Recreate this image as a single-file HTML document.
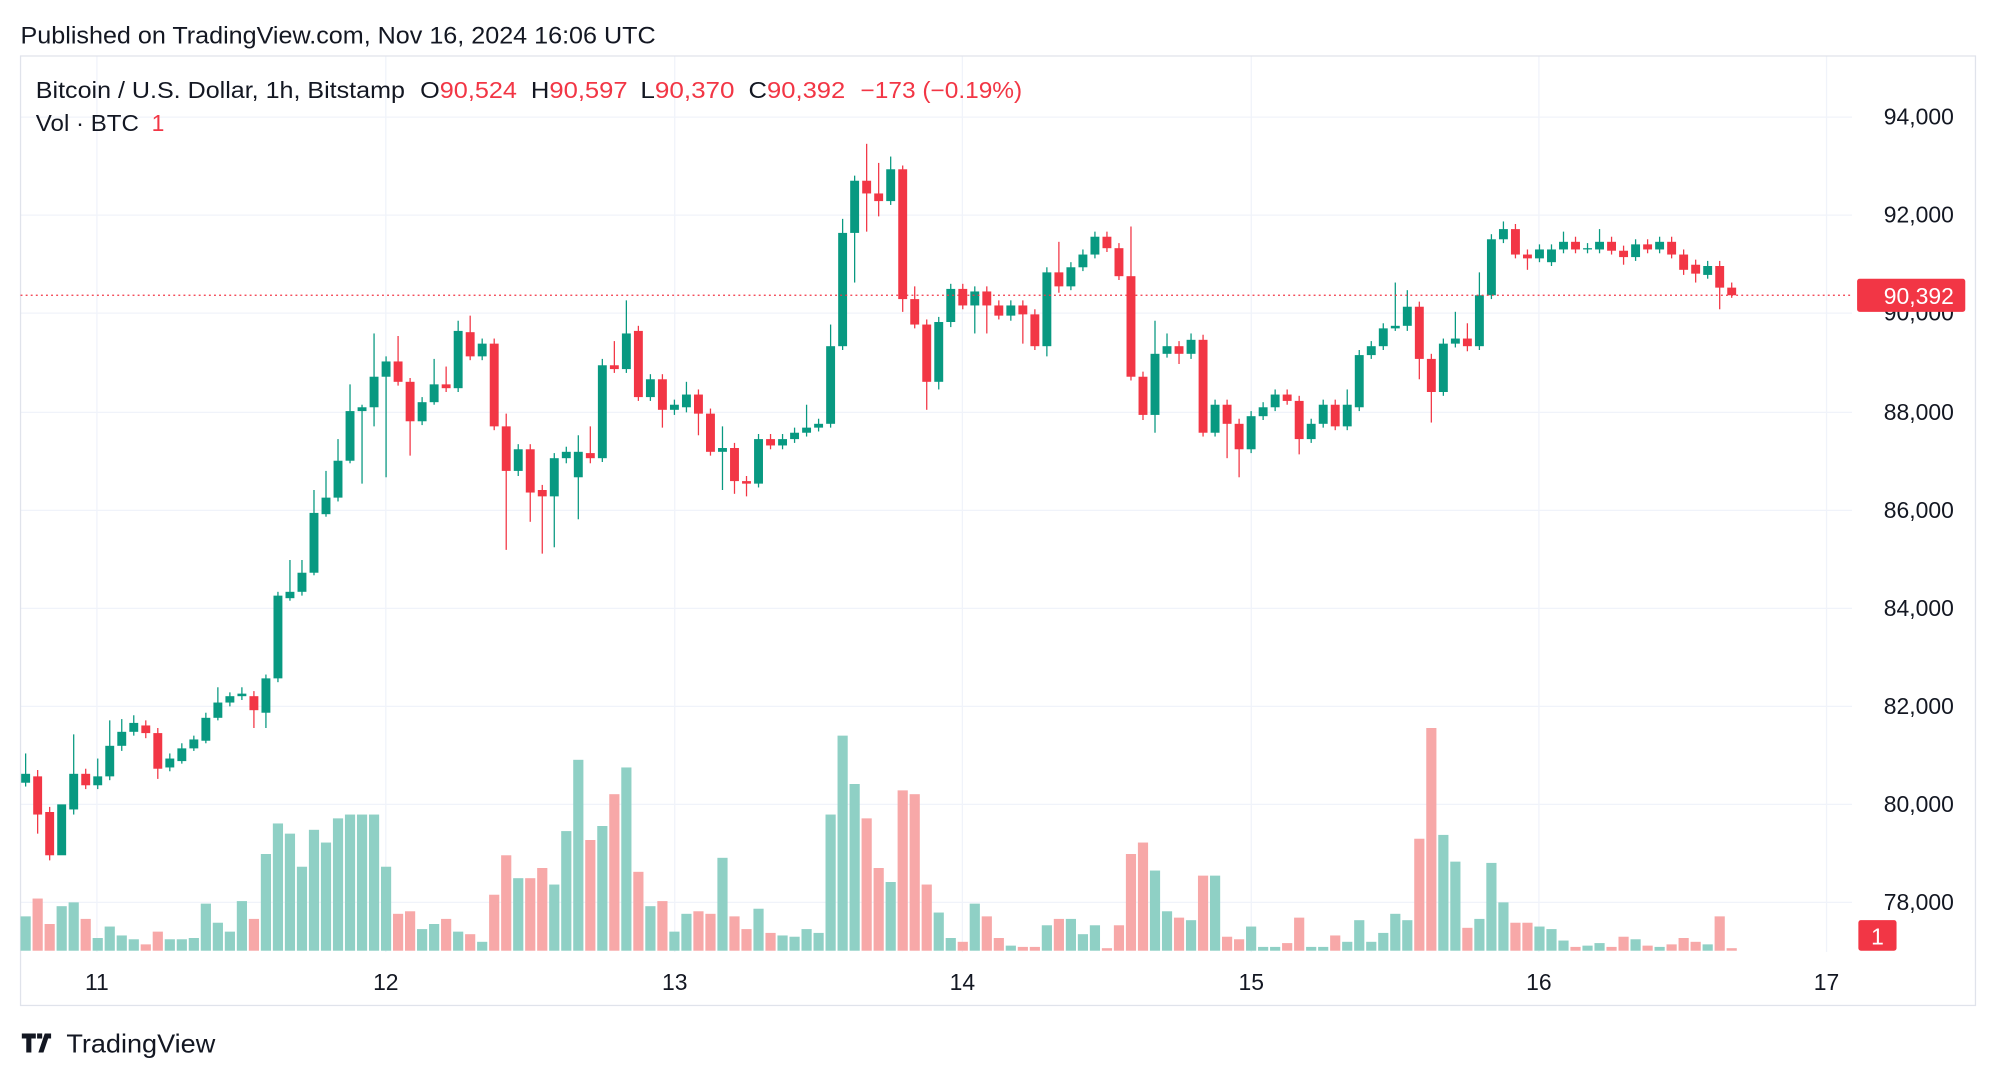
<!DOCTYPE html>
<html><head><meta charset="utf-8"><style>
html,body{margin:0;padding:0;background:#fff;}
svg{display:block;font-family:"Liberation Sans",sans-serif;}
</style></head><body>
<svg id="s" width="1996" height="1078" viewBox="0 0 1568 847" xmlns="http://www.w3.org/2000/svg">
<rect width="1568" height="847" fill="#fff"/>
<g id="grid" stroke="#f0f3fa" stroke-width="1"></g>
<rect x="16" y="44" width="1536" height="746" fill="none" stroke="#e0e3eb" stroke-width="1"/>
<g id="vol"></g>
<g id="candles"></g>
<line x1="16" y1="232" x2="1455" y2="232" stroke="#f23645" stroke-width="1" stroke-dasharray="1.5,2.5"/>
<text x="16" y="34" font-size="19" fill="#131722" textLength="499" lengthAdjust="spacingAndGlyphs">Published on TradingView.com, Nov 16, 2024 16:06 UTC</text>
<g font-size="18" fill="#131722">
<text x="28" y="77" textLength="290" lengthAdjust="spacingAndGlyphs">Bitcoin / U.S. Dollar, 1h, Bitstamp</text>
<text x="330" y="77" textLength="76" lengthAdjust="spacingAndGlyphs">O<tspan fill="#f23645">90,524</tspan></text>
<text x="417" y="77" textLength="76" lengthAdjust="spacingAndGlyphs">H<tspan fill="#f23645">90,597</tspan></text>
<text x="503" y="77" textLength="74" lengthAdjust="spacingAndGlyphs">L<tspan fill="#f23645">90,370</tspan></text>
<text x="588" y="77" textLength="76" lengthAdjust="spacingAndGlyphs">C<tspan fill="#f23645">90,392</tspan></text>
<text x="676" y="77" fill="#f23645" textLength="127" lengthAdjust="spacingAndGlyphs">−173 (−0.19%)</text>
<text x="28" y="103" textLength="81" lengthAdjust="spacingAndGlyphs">Vol · BTC</text>
<text x="119" y="103" fill="#f23645">1</text>
</g>
<g font-size="18" fill="#131722" text-anchor="end">
<text x="1535" y="98">94,000</text><text x="1535" y="175">92,000</text><text x="1535" y="252">90,000</text>
<text x="1535" y="330">88,000</text><text x="1535" y="407">86,000</text><text x="1535" y="484">84,000</text>
<text x="1535" y="561">82,000</text><text x="1535" y="638">80,000</text><text x="1535" y="715">78,000</text>
</g>
<rect x="1459" y="219" width="85" height="26" rx="2" fill="#f23645"/>
<text x="1535" y="239" font-size="18" fill="#fff" text-anchor="end">90,392</text>
<rect x="1460" y="723" width="30" height="24" rx="2" fill="#f23645"/>
<text x="1475" y="742" font-size="18" fill="#fff" text-anchor="middle">1</text>
<g font-size="18" fill="#131722" text-anchor="middle">
<text x="76" y="778">11</text><text x="303" y="778">12</text><text x="530" y="778">13</text>
<text x="756" y="778">14</text><text x="983" y="778">15</text><text x="1209" y="778">16</text><text x="1435" y="778">17</text>
</g>
<path d="M17 812h11v4h-3.5v11h-4v-11H17z M30 827l5-15h4l-5 15z M36 812h4v4h-4z" fill="#131722"/>
<rect x="29" y="812" width="4" height="4" fill="#131722"/>
<text x="52" y="827" font-size="20" fill="#131722" textLength="117" lengthAdjust="spacingAndGlyphs">TradingView</text>
</svg>
<script>
var NS="http://www.w3.org/2000/svg";
function el(p,t,a){var e=document.createElementNS(NS,t);for(var k in a)e.setAttribute(k,a[k]);p.appendChild(e);return e;}
var g=document.getElementById("grid");
[76,303,530,756,983,1209,1435].forEach(function(x){el(g,"line",{x1:x,y1:44,x2:x,y2:748});});
[92,169,246,324,401,478,555,632,709].forEach(function(y){el(g,"line",{x1:16,y1:y,x2:1455,y2:y});});
var C=[[615,608,592,618],[610,640,605,655],[638,672,634,676],[672,632,688,688],[636,608,577,640],[608,617,604,620],[617,610,596,620],[610,586,566,613],[586,575,565,590],[575,568,562,578],[570,576,566,580],[576,604,572,612],[603,596,592,606],[598,588,584,600],[588,581,578,590],[582,564,560,584],[564,552,540,566],[552,547,544,555],[547,545,540,550],[547,558,543,572],[560,533,530,572],[533,468,465,536],[470,465,440,472],[465,450,440,468],[450,403,385,452],[404,391,370,406],[391,362,345,394],[362,323,302,364],[323,320,318,380],[320,296,262,335],[296,284,280,375],[284,300,264,303],[300,331,297,358],[331,316,312,334],[316,302,282,318],[302,305,288,308],[305,260,252,308],[261,280,248,283],[280,270,266,283],[270,335,266,338],[335,370,325,432],[370,353,349,374],[353,387,349,410],[385,390,381,435],[390,360,356,430],[360,355,351,364],[375,355,342,408],[356,360,335,364],[360,287,282,363],[287,290,268,293],[290,262,236,293],[260,312,256,315],[312,298,294,315],[298,322,294,336],[322,318,314,326],[320,310,300,324],[310,325,306,342],[325,355,321,358],[355,352,335,385],[352,378,348,388],[378,380,374,390],[380,345,341,383],[345,350,341,353],[350,345,341,353],[345,340,336,348],[340,336,318,343],[336,333,329,339],[333,272,255,336],[272,183,172,275],[183,142,138,222],[142,152,113,182],[152,158,128,170],[158,133,123,161],[133,235,130,245],[235,255,225,258],[255,300,251,322],[300,253,249,306],[253,227,223,257],[227,240,223,243],[240,229,225,262],[229,240,225,262],[240,248,236,251],[248,240,236,252],[240,247,236,270],[247,272,243,275],[272,214,210,280],[214,225,190,230],[225,210,206,228],[210,200,196,213],[200,186,182,203],[186,195,182,198],[195,217,191,220],[217,296,178,299],[296,326,292,330],[326,278,252,340],[278,272,262,281],[272,278,268,286],[278,267,262,282],[267,340,263,343],[340,318,314,343],[318,333,314,360],[333,353,329,375],[353,327,323,356],[327,320,316,330],[320,310,306,323],[310,315,306,318],[315,345,311,357],[345,333,329,348],[333,318,314,336],[318,335,314,338],[335,318,306,338],[320,279,275,323],[279,272,268,282],[272,258,254,275],[258,256,222,260],[256,241,228,260],[241,282,237,298],[282,308,278,332],[308,270,266,311],[270,266,245,273],[266,272,254,276],[272,232,214,275],[232,188,184,235],[188,180,174,191],[180,200,176,203],[200,203,196,212],[203,196,192,206],[206,196,192,209],[196,190,182,199],[190,196,186,199],[196,195,191,199],[196,190,180,199],[190,197,186,200],[197,202,193,208],[202,192,188,205],[192,196,188,199],[196,190,186,199],[190,200,186,203],[200,212,196,216],[208,215,204,222],[216,209,205,219],[209,226,205,243],[226,232,222,234]];
var V=[720,706,726,712,709,722,737,728,735,738,742,732,738,738,737,710,725,732,708,722,671,647,655,681,652,662,643,640,640,640,681,718,716,730,726,722,732,734,740,703,672,690,690,682,695,653,597,660,649,624,603,685,712,708,732,718,716,718,674,720,730,714,733,735,736,730,733,640,578,616,643,682,693,621,624,695,717,737,740,710,720,737,743,744,744,727,722,722,734,727,745,727,671,662,684,716,721,723,688,688,736,738,728,744,744,741,721,744,744,735,740,723,740,733,718,723,659,572,656,677,729,722,678,709,725,725,728,730,739,744,743,741,744,736,738,743,744,742,737,740,742,720,745];
var cg=document.getElementById("candles"),vg=document.getElementById("vol");
C.forEach(function(c,i){
 var x=20+9.44*(i);
 var up=c[1]<c[0];
 var col=up?"#089981":"#f23645";
 el(cg,"line",{x1:x,y1:c[2],x2:x,y2:c[3],stroke:col,"stroke-width":1});
 var t=Math.min(c[0],c[1]),h=Math.max(1,Math.abs(c[0]-c[1]));
 el(cg,"rect",{x:x-3.5,y:t,width:7,height:h,fill:col});
 var v=V[i]||745;
 el(vg,"rect",{x:x-4,y:v,width:8,height:747-v,fill:up?"#8fd0c5":"#f7a8a8"});
});
</script>
</body></html>
